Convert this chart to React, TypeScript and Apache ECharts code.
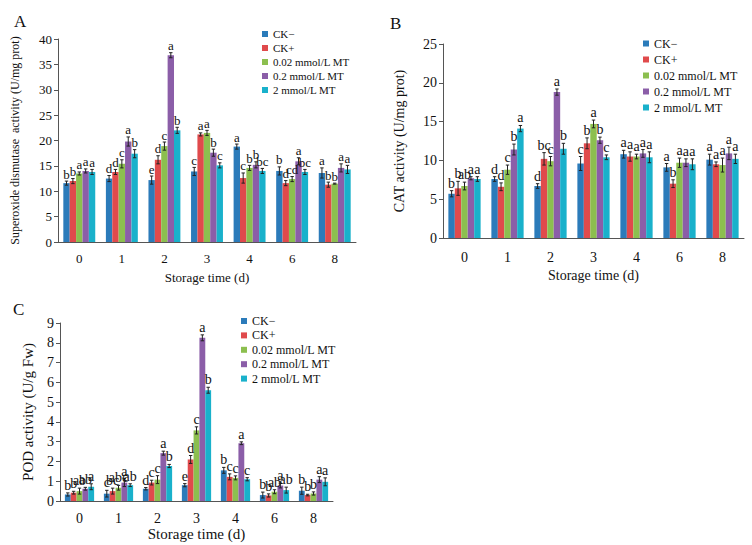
import React, { useEffect, useRef } from "react";
import * as echarts from "echarts";

// ---------- data ----------
const days = ["0", "1", "2", "3", "4", "6", "8"];
const groups = ["CK−", "CK+", "0.02 mmol/L MT", "0.2 mmol/L MT", "2 mmol/L MT"];
const colors = ["#2b7bba", "#e04a4c", "#8cbf4f", "#8b5ea8", "#19b1cb"];

// A: SOD activity (U/mg prot)
const sodValues = [
  [11.6, 12.5, 12.2, 13.9, 18.8, 14.0, 13.6],
  [12.0, 13.8, 16.2, 21.2, 12.6, 11.6, 11.3],
  [13.5, 15.4, 18.9, 21.5, 14.6, 12.4, 11.5],
  [14.0, 19.8, 36.8, 17.6, 15.2, 15.9, 14.6],
  [13.8, 17.4, 22.0, 15.1, 14.0, 13.8, 14.3],
];
const sodErrors = [
  [0.4, 0.6, 0.8, 0.8, 0.5, 0.8, 1.0],
  [0.5, 0.5, 0.8, 0.3, 1.0, 0.5, 0.5],
  [0.3, 0.8, 0.8, 0.5, 0.5, 0.5, 0.1],
  [0.4, 0.9, 0.5, 0.7, 0.6, 0.7, 0.8],
  [0.5, 0.8, 0.6, 0.5, 0.5, 0.5, 0.8],
];
const sodLetters = [
  ["b", "d", "e", "c", "a", "b", "a"],
  ["b", "d", "d", "a", "c", "d", "b"],
  ["a", "c", "c", "a", "b", "cd", "b"],
  ["a", "a", "a", "b", "b", "a", "a"],
  ["a", "b", "b", "c", "bc", "bc", "a"],
];

// B: CAT activity (U/mg prot)
const catValues = [
  [5.7, 7.6, 6.7, 9.6, 10.8, 9.1, 10.1],
  [6.4, 6.6, 10.2, 12.2, 10.5, 7.0, 9.5],
  [6.7, 8.8, 9.9, 14.7, 10.5, 9.7, 9.4],
  [7.7, 11.4, 18.8, 12.6, 10.9, 9.7, 10.9],
  [7.6, 14.1, 11.5, 10.4, 10.4, 9.5, 10.2],
];
const catErrors = [
  [0.4, 0.3, 0.3, 0.9, 0.5, 0.5, 0.7],
  [0.9, 0.5, 0.8, 0.7, 0.6, 0.5, 0.3],
  [0.5, 0.6, 0.6, 0.5, 0.3, 0.6, 0.9],
  [0.2, 0.7, 0.4, 0.4, 0.5, 0.5, 0.8],
  [0.3, 0.4, 0.7, 0.3, 0.7, 0.7, 0.6],
];
const catLetters = [
  ["b", "d", "d", "c", "a", "a", "a"],
  ["b", "d", "bc", "b", "a", "b", "a"],
  ["ab", "c", "c", "a", "a", "a", "a"],
  ["a", "b", "a", "b", "a", "a", "a"],
  ["a", "a", "b", "c", "a", "a", "a"],
];

// C: POD activity (U/g Fw)
const podValues = [
  [0.33, 0.37, 0.62, 0.8, 1.55, 0.3, 0.52],
  [0.42, 0.5, 0.93, 2.1, 1.22, 0.28, 0.3],
  [0.5, 0.67, 1.08, 3.57, 1.17, 0.47, 0.38],
  [0.62, 0.93, 2.42, 8.25, 2.92, 0.78, 1.08],
  [0.72, 0.8, 1.77, 5.6, 1.1, 0.55, 0.97],
];
const podErrors = [
  [0.08, 0.17, 0.06, 0.08, 0.15, 0.15, 0.18],
  [0.07, 0.15, 0.12, 0.2, 0.15, 0.08, 0.04],
  [0.15, 0.12, 0.2, 0.18, 0.1, 0.1, 0.08],
  [0.07, 0.2, 0.1, 0.15, 0.07, 0.12, 0.15],
  [0.15, 0.07, 0.08, 0.15, 0.08, 0.15, 0.2],
];
const podLetters = [
  ["b", "c", "d", "e", "b", "b", "b"],
  ["b", "bc", "c", "d", "c", "b", "b"],
  ["ab", "abc", "c", "c", "c", "ab", "b"],
  ["ab", "a", "a", "a", "a", "a", "a"],
  ["a", "ab", "b", "b", "c", "ab", "a"],
];

const xTitle = "Storage time (d)";
const yTitles = [
  "Superoxide dismutase  activity (U/mg prot)",
  "CAT activity (U/mg prot)",
  "POD activity (U/g Fw)",
];
const panelLetters = ["A", "B", "C"];
const yMax = [40, 25, 9];
const yInterval = [5, 5, 1];

// ---------- layout ----------
const FONT = '"Liberation Serif", "DejaVu Serif", serif';
const layouts = [
  {
    grid: { left: 58, top: 39, width: 298, height: 203 },
    tickFont: 13, labelMargin: 10, xNameGap: 29, xNameFont: 13,
    yNameGap: 37, yNameFont: 12, letterFont: 13,
    legend: { left: 262, top: 28, font: 11, lineHeight: 12, gap: 2 },
    letterPos: [14, 13],
  },
  {
    grid: { left: 443, top: 44, width: 301, height: 194 },
    tickFont: 14, labelMargin: 12, xNameGap: 30, xNameFont: 14,
    yNameGap: 37, yNameFont: 14, letterFont: 14,
    legend: { left: 643, top: 37, font: 12, lineHeight: 13, gap: 3 },
    letterPos: [390, 15],
  },
  {
    grid: { left: 60, top: 323, width: 273, height: 178 },
    tickFont: 14, labelMargin: 10, xNameGap: 25, xNameFont: 15,
    yNameGap: 25, yNameFont: 15, letterFont: 14,
    legend: { left: 241, top: 315, font: 12, lineHeight: 12, gap: 2.4 },
    letterPos: [13, 301],
  },
];

const panelValues = [sodValues, catValues, podValues];
const panelErrors = [sodErrors, catErrors, podErrors];
const panelLetterSets = [sodLetters, catLetters, podLetters];

function buildOption() {
  const grid: any[] = [];
  const xAxis: any[] = [];
  const yAxis: any[] = [];
  const legend: any[] = [];
  const series: any[] = [];
  const graphic: any[] = [];

  layouts.forEach((L, p) => {
    grid.push({ ...L.grid, containLabel: false });
    xAxis.push({
      gridIndex: p,
      type: "category",
      data: days,
      axisLine: { lineStyle: { color: "#555", width: 1 } },
      axisTick: { length: 4, lineStyle: { color: "#555" } },
      axisLabel: { fontFamily: FONT, fontSize: L.tickFont, color: "#111", margin: L.labelMargin },
      name: xTitle,
      nameLocation: "middle",
      nameGap: L.xNameGap,
      nameTextStyle: { fontFamily: FONT, fontSize: L.xNameFont, color: "#111" },
    });
    yAxis.push({
      gridIndex: p,
      type: "value",
      min: 0,
      max: yMax[p],
      interval: yInterval[p],
      axisLine: { show: true, lineStyle: { color: "#555", width: 1 } },
      axisTick: { show: true, length: 4, lineStyle: { color: "#555" } },
      splitLine: { show: false },
      axisLabel: { fontFamily: FONT, fontSize: L.tickFont, color: "#111", margin: 6 },
      name: yTitles[p],
      nameLocation: "middle",
      nameGap: L.yNameGap,
      nameTextStyle: { fontFamily: FONT, fontSize: L.yNameFont, color: "#111" },
    });
    legend.push({
      data: groups,
      orient: "vertical",
      left: L.legend.left,
      top: L.legend.top,
      padding: 0,
      itemWidth: 6,
      itemHeight: 6,
      itemGap: L.legend.gap,
      icon: "rect",
      selectedMode: false,
      textStyle: {
        fontFamily: FONT,
        fontSize: L.legend.font,
        lineHeight: L.legend.lineHeight,
        color: "#111",
      },
    });
    graphic.push({
      type: "text",
      left: L.letterPos[0],
      top: L.letterPos[1],
      style: { text: panelLetters[p], font: `17px ${FONT}`, fill: "#111" },
    });

    const vals = panelValues[p];
    const errs = panelErrors[p];
    const lets = panelLetterSets[p];

    groups.forEach((g, i) => {
      series.push({
        name: g,
        type: "bar",
        xAxisIndex: p,
        yAxisIndex: p,
        data: vals[i],
        barWidth: "15%",
        barGap: "0%",
        itemStyle: { color: colors[i] },
      });
    });
    groups.forEach((g, i) => {
      series.push({
        name: `err-${p}-${i}`,
        type: "custom",
        xAxisIndex: p,
        yAxisIndex: p,
        z: 5,
        clip: false,
        data: vals[i].map((v, k) => [k, v, errs[i][k]]),
        encode: { x: 0, y: 1 },
        renderItem: (params: any, api: any) => {
          const cat = api.value(0);
          const v = api.value(1);
          const e = api.value(2);
          const band = api.size([1, 0])[0];
          const off = (i - 2) * band * 0.15;
          const top = api.coord([cat, v + e]);
          const bot = api.coord([cat, Math.max(0, v - e)]);
          const x = top[0] + off;
          const cap = 1.7;
          const stroke = { stroke: "#222", lineWidth: 1 };
          return {
            type: "group",
            children: [
              { type: "line", shape: { x1: x, y1: top[1], x2: x, y2: bot[1] }, style: stroke },
              { type: "line", shape: { x1: x - cap, y1: top[1], x2: x + cap, y2: top[1] }, style: stroke },
              { type: "line", shape: { x1: x - cap, y1: bot[1], x2: x + cap, y2: bot[1] }, style: stroke },
              {
                type: "text",
                x: x,
                y: top[1] - 0.5,
                style: {
                  text: lets[i][params.dataIndex],
                  font: `${L.letterFont}px ${FONT}`,
                  fill: "#111",
                  align: "center",
                  verticalAlign: "bottom",
                },
              },
            ],
          };
        },
      });
    });
  });

  return {
    animation: false,
    backgroundColor: "#ffffff",
    grid,
    xAxis,
    yAxis,
    legend,
    series,
    graphic,
  };
}

export default function App() {
  const ref = useRef<HTMLDivElement>(null);
  useEffect(() => {
    if (!ref.current) return;
    const chart = echarts.init(ref.current, undefined, { renderer: "svg" });
    chart.setOption(buildOption() as any);
    return () => chart.dispose();
  }, []);
  return (
    <div
      ref={ref}
      style={{ position: "absolute", left: 0, top: 0, width: 752, height: 545, background: "#fff" }}
    />
  );
}
